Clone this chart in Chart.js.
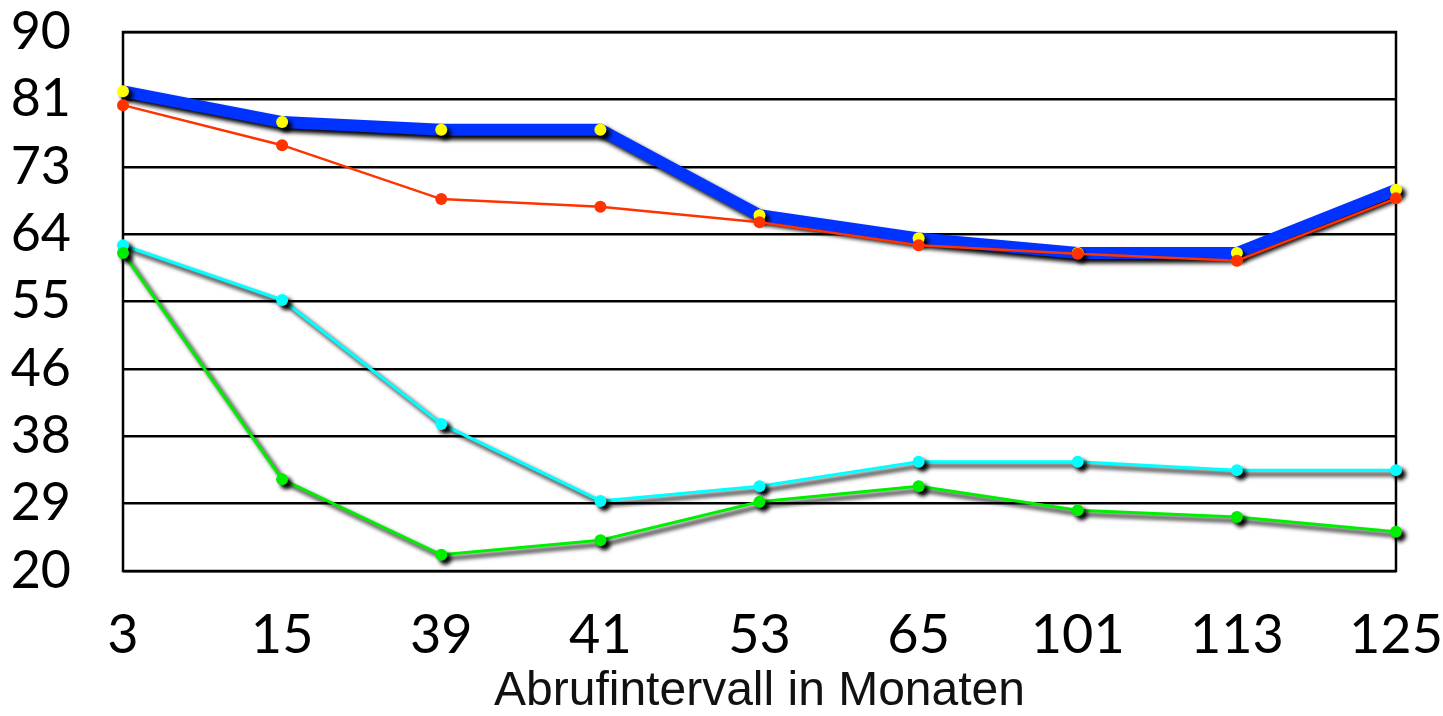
<!DOCTYPE html>
<html>
<head>
<meta charset="utf-8">
<script src="https://cdn.jsdelivr.net/npm/chart.js@4/dist/chart.umd.min.js"></script>
<style>
html,body{margin:0;padding:0;background:#fff;}
#wrap{width:1443px;height:716px;position:relative;}
</style>
</head>
<body>
<div id="wrap"><canvas id="c" width="1443" height="716"></canvas></div>
<script>
const categories = ["3","15","39","41","53","65","101","113","125"];
const blueSeries = [82.3, 78.3, 77.3, 77.3, 66.2, 63.2, 61.3, 61.3, 69.5];
const redSeries = [80.5, 75.3, 68.3, 67.3, 65.3, 62.3, 61.2, 60.3, 68.4];
const cyanSeries = [62.3, 55.2, 39.1, 29.1, 31.0, 34.2, 34.2, 33.1, 33.1];
const greenSeries = [61.3, 31.9, 22.1, 24.0, 29.0, 31.0, 27.9, 27.0, 25.1];
const yTickLabels = ["20","29","38","46","55","64","73","81","90"];
const xTitle = "Abrufintervall in Monaten";

const shadowPlugin = {
  id: 'shadow',
  beforeDatasetDraw(chart, args) {
    const ds = chart.data.datasets[args.index];
    if (!ds.shadow) return;
    const ctx = chart.ctx;
    ctx.save();
    ctx.shadowColor = 'rgba(0,0,0,1)';
    ctx.shadowBlur = 4;
    ctx.shadowOffsetX = 4;
    ctx.shadowOffsetY = 4;
  },
  afterDatasetDraw(chart, args) {
    const ds = chart.data.datasets[args.index];
    if (!ds.shadow) return;
    chart.ctx.restore();
  }
};

const borderPlugin = {
  id: 'plotBorder',
  beforeDatasetsDraw(chart) {
    const a = chart.chartArea, ctx = chart.ctx;
    ctx.save();
    ctx.strokeStyle = '#000';
    ctx.lineWidth = 2.5;
    ctx.strokeRect(a.left, a.top, a.right - a.left, a.bottom - a.top);
    ctx.restore();
  }
};

new Chart(document.getElementById('c'), {
  type: 'line',
  data: {
    labels: categories,
    datasets: [
      { data: blueSeries, borderColor: '#0033ff', borderWidth: 12, pointBackgroundColor: '#ffff00', pointBorderWidth: 0, pointRadius: 6, order: 4, shadow: true },
      { data: redSeries, borderColor: '#ff3300', borderWidth: 2.5, pointBackgroundColor: '#ff3300', pointBorderWidth: 0, pointRadius: 6, order: 3, shadow: false },
      { data: cyanSeries, borderColor: '#00ffff', borderWidth: 3, pointBackgroundColor: '#00ffff', pointBorderWidth: 0, pointRadius: 6, order: 2, shadow: true },
      { data: greenSeries, borderColor: '#00ee00', borderWidth: 3, pointBackgroundColor: '#00ee00', pointBorderWidth: 0, pointRadius: 6, order: 1, shadow: true }
    ]
  },
  options: {
    responsive: false,
    animation: false,
    layout: { padding: { left: 0, right: 47, top: 32, bottom: 0 } },
    elements: { line: { tension: 0 } },
    datasets: { line: { clip: false } },
    plugins: { legend: { display: false }, tooltip: { enabled: false } },
    scales: {
      x: {
        offset: false,
        grid: { display: false, drawTicks: false },
        border: { display: false },
        ticks: { color: '#000', font: { family: 'Lato', size: 54 }, padding: 32, maxRotation: 0, autoSkip: false },
        title: { display: true, text: xTitle, color: '#111', font: { family: 'Liberation Sans', size: 48, lineHeight: 1.0 }, padding: { top: 0, bottom: 0 } },
        afterFit(s) { s.height = 145; s.paddingLeft = 0; s.paddingRight = 0; }
      },
      y: {
        min: 20, max: 90,
        grid: { color: '#000', lineWidth: 2.5, drawTicks: false },
        border: { display: false },
        ticks: {
          stepSize: 8.75,
          color: '#000',
          font: { family: 'Lato', size: 52 },
          padding: 52,
          callback: (v, i) => yTickLabels[i]
        },
        afterFit(s) { s.width = 123; s.paddingTop = 0; s.paddingBottom = 0; }
      }
    }
  },
  plugins: [shadowPlugin, borderPlugin]
});
</script>
</body>
</html>
